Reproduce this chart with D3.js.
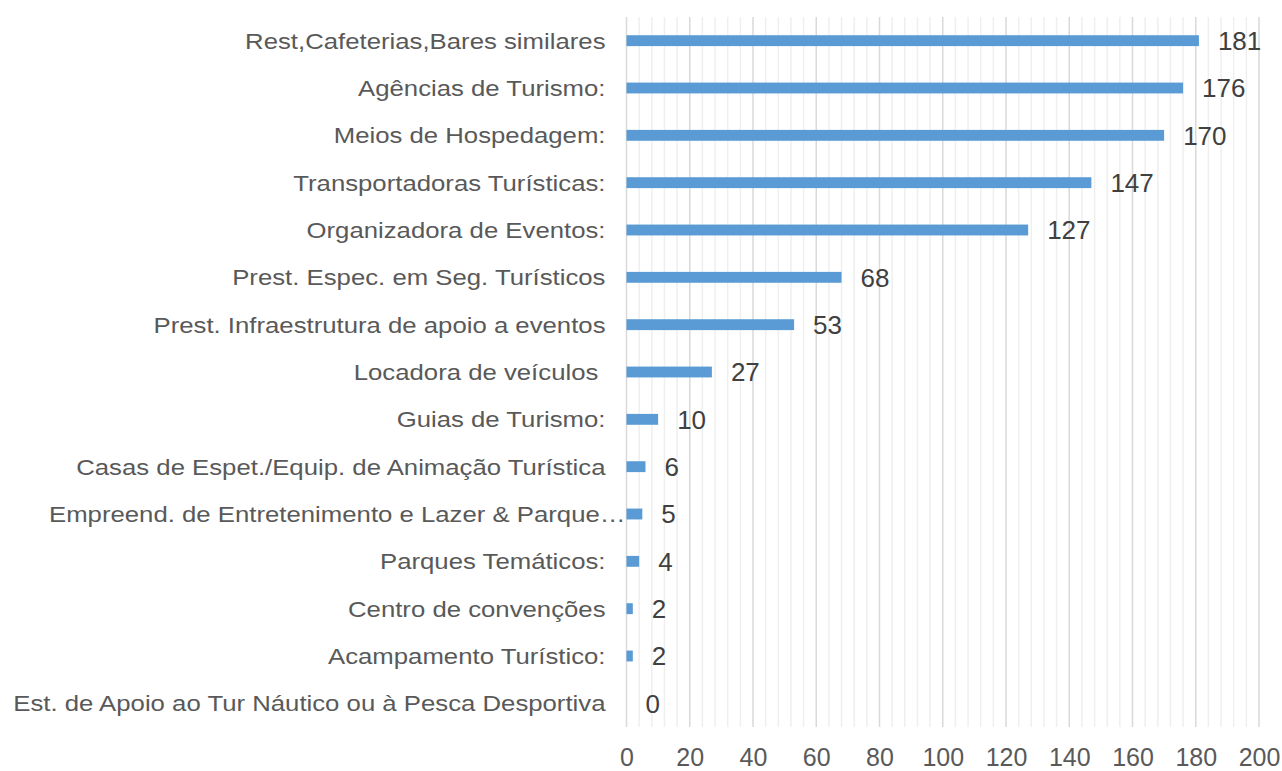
<!DOCTYPE html>
<html>
<head>
<meta charset="utf-8">
<script src="https://cdn.jsdelivr.net/npm/d3@7"></script>
<style>
  html, body { margin: 0; padding: 0; background: #fff; }
  svg { display: block; font-family: "Liberation Sans", Arial, sans-serif; }
</style>
</head>
<body>
<div id="chart"></div>
<script>
// Chart data
const categories = [
    "Rest,Cafeterias,Bares similares",
    "Agências de Turismo:",
    "Meios de Hospedagem:",
    "Transportadoras Turísticas:",
    "Organizadora de Eventos:",
    "Prest. Espec. em Seg. Turísticos",
    "Prest. Infraestrutura de apoio a eventos",
    "Locadora de veículos ",
    "Guias de Turismo:",
    "Casas de Espet./Equip. de Animação Turística",
    "Empreend. de Entretenimento e Lazer & Parque…",
    "Parques Temáticos:",
    "Centro de convenções",
    "Acampamento Turístico:",
    "Est. de Apoio ao Tur Náutico ou à Pesca Desportiva"
];
const values = [181, 176, 170, 147, 127, 68, 53, 27, 10, 6, 5, 4, 2, 2, 0];
const tickValues = [0, 20, 40, 60, 80, 100, 120, 140, 160, 180, 200];

// Dimensions
const width = 1282;
const height = 771;
const margin = { top: 17, right: 23, bottom: 44, left: 626.5 };

const svg = d3.select("#chart").append("svg")
    .attr("width", width)
    .attr("height", height);

const x = d3.scaleLinear()
    .domain([0, 200])
    .range([margin.left, width - margin.right]);

const y = d3.scaleBand()
    .domain(categories)
    .range([margin.top, height - margin.bottom])
    .paddingInner(0.77)
    .paddingOuter(0.385);

const textColor = "#595959";
const stretch = 1.17; // labels in the original are drawn a bit wide

// Minor gridlines every 4 units
svg.append("g")
    .selectAll("line")
    .data(d3.range(0, 201, 4).filter(v => v % 20 !== 0))
    .join("line")
    .attr("x1", d => x(d)).attr("x2", d => x(d))
    .attr("y1", margin.top).attr("y2", height - margin.bottom)
    .attr("stroke", "#efefef")
    .attr("stroke-width", 1.5);

// Major gridlines every 20
svg.append("g")
    .selectAll("line")
    .data(tickValues)
    .join("line")
    .attr("x1", d => x(d)).attr("x2", d => x(d))
    .attr("y1", margin.top).attr("y2", height - margin.bottom)
    .attr("stroke", "#d9d9d9")
    .attr("stroke-width", 1.5);

// Bars
svg.append("g")
    .selectAll("rect")
    .data(values)
    .join("rect")
    .attr("x", x(0))
    .attr("y", (d, i) => y(categories[i]))
    .attr("width", d => x(d) - x(0))
    .attr("height", y.bandwidth())
    .attr("fill", "#5b9bd5");

// Value labels
svg.append("g")
    .selectAll("text")
    .data(values)
    .join("text")
    .attr("x", d => x(d) + 19)
    .attr("y", (d, i) => y(categories[i]) + y.bandwidth() / 2)
    .attr("dy", "0.36em")
    .attr("fill", "#404040")
    .attr("font-size", "26px")
    .text(d => d);

// Category labels
const gy = svg.append("g")
    .attr("transform", `translate(${x(0)},0)`)
    .call(d3.axisLeft(y).tickSize(0).tickPadding(21));
gy.select(".domain").remove();
gy.selectAll("text")
    .attr("fill", textColor)
    .attr("font-size", "22px")
    .attr("font-family", "\"Liberation Sans\", Arial, sans-serif")
    .attr("dy", "0.36em")
    .style("white-space", "pre")  // keep trailing space of "Locadora de veículos "
    .attr("transform", `scale(${stretch},1)`)
    .attr("x", d => (d.endsWith("…") ? -1 : -21) / stretch);

// Bottom tick labels
const gx = svg.append("g")
    .attr("transform", `translate(0,${height - margin.bottom})`)
    .call(d3.axisBottom(x).tickValues(tickValues).tickSize(0).tickPadding(21));
gx.select(".domain").remove();
gx.selectAll("text")
    .attr("fill", textColor)
    .attr("font-size", "25px")
    .attr("font-family", "\"Liberation Sans\", Arial, sans-serif");
</script>
</body>
</html>
